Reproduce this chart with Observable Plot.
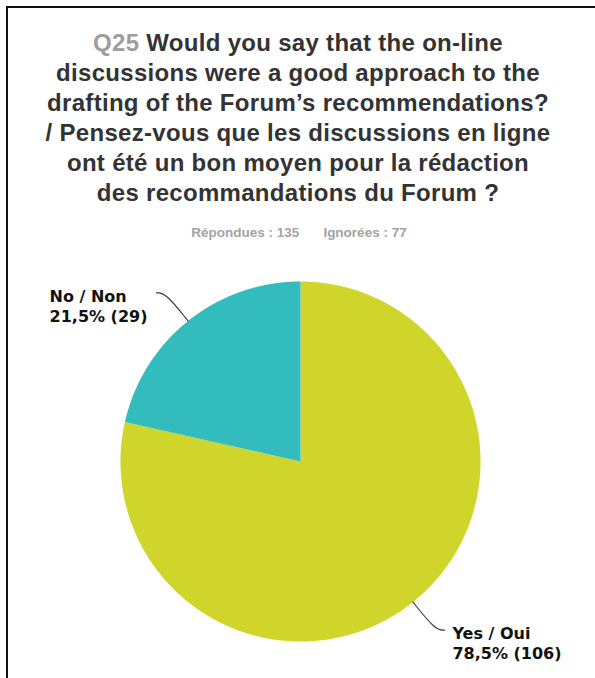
<!DOCTYPE html>
<html>
<head>
<meta charset="utf-8">
<script src="https://cdn.jsdelivr.net/npm/d3@7"></script>
<script src="https://cdn.jsdelivr.net/npm/@observablehq/plot@0.6"></script>
<style>
  html, body { margin: 0; padding: 0; background: #fff; }
  #wrap { position: relative; width: 595px; height: 678px; overflow: hidden; background: #fff; }
  #frame { position: absolute; left: 6px; top: 6px; width: 700px; height: 800px;
           border-left: 2px solid #111; border-top: 2px solid #111; box-sizing: border-box; }
  #title { position: absolute; left: 0; top: 28px; width: 596px; text-align: center;
           font-family: "Liberation Sans", Arial, sans-serif; font-weight: bold; font-size: 24px;
           line-height: 30px; color: #333; letter-spacing: 0.3px; }
  #title .q { color: #9d9d9d; font-weight: bold; }
  #sub { position: absolute; left: 0; top: 225px; width: 598px; text-align: center;
         font-family: "Liberation Sans", Arial, sans-serif; font-weight: bold; font-size: 13.5px;
         color: #a3a3a3; line-height: 16px; }
  #sub span + span { margin-left: 24px; }
  #chart { position: absolute; left: 0; top: 250px; }
</style>
</head>
<body>
<div id="wrap">
  <div id="frame"></div>
  <div id="title"></div>
  <div id="sub"></div>
  <div id="chart"></div>
</div>
<script>
// ---- data ----
const questionId = "Q25";
const titleLines = [
  "Would you say that the on-line",
  "discussions were a good approach to the",
  "drafting of the Forum’s recommendations?",
  "/ Pensez-vous que les discussions en ligne",
  "ont été un bon moyen pour la rédaction",
  "des recommandations du Forum ?"
];
const answered = 135;
const skipped = 77;
const categories = ["Yes / Oui", "No / Non"];
const counts = [106, 29];
const colors = ["#cfd52a", "#33bcbe"];

// ---- title ----
const title = document.getElementById("title");
titleLines.forEach((line, i) => {
  const div = document.createElement("div");
  if (i === 0) {
    const q = document.createElement("span");
    q.className = "q";
    q.textContent = questionId + " ";
    div.appendChild(q);
  }
  div.appendChild(document.createTextNode(line));
  title.appendChild(div);
});
document.getElementById("sub").innerHTML =
  `<span>Répondues : ${answered}</span><span>Ignorées : ${skipped}</span>`;

// ---- pie geometry from data ----
const total = d3.sum(counts);
const slices = d3.pie().sort(null).value(d => d.count)(
  categories.map((c, i) => ({label: c, count: counts[i]}))
);
const fmtPct = v => (v * 100).toFixed(1).replace(".", ",") + "%";

// polar (clockwise from 12 o'clock) -> unit-circle coordinates
const px = (a, r) => r * Math.sin(a);
const py = (a, r) => r * Math.cos(a);

const polyPts = [];
slices.forEach(s => {
  const n = Math.max(2, Math.ceil((s.endAngle - s.startAngle) / (Math.PI / 360)));
  polyPts.push({label: s.data.label, x: 0, y: 0});
  for (let k = 0; k <= n; k++) {
    const a = s.startAngle + (s.endAngle - s.startAngle) * k / n;
    polyPts.push({label: s.data.label, x: px(a, 1), y: py(a, 1)});
  }
  polyPts.push({label: s.data.label, x: 0, y: 0});
});

const leaderPts = [];
const labels = [];
slices.forEach(s => {
  const a = (s.startAngle + s.endAngle) / 2;
  const side = Math.sin(a) < 0 ? -1 : 1;
  const bx = px(a, 1.2), by = py(a, 1.2);
  const cx = bx + side * 0.05;
  leaderPts.push({label: s.data.label, x: px(a, 1), y: py(a, 1)});
  leaderPts.push({label: s.data.label, x: bx, y: by});
  leaderPts.push({label: s.data.label, x: cx, y: by});
  labels.push({
    side, x: cx, y: by,
    text: `${s.data.label}\n${fmtPct(s.data.count / total)} (${s.data.count})`
  });
});

const textOpts = {
  x: "x", y: "y", text: "text",
  fontFamily: "DejaVu Sans", fontWeight: "bold", fontSize: 16, lineHeight: 1.25,
  textAnchor: "start", lineAnchor: "top", fill: "#111", dy: -5
};

const chart = Plot.plot({
  width: 595,
  height: 428,
  marginLeft: 120,
  marginRight: 115,
  marginTop: 31,
  marginBottom: 37,
  x: {domain: [-1, 1], axis: null},
  y: {domain: [-1, 1], axis: null},
  color: {domain: categories, range: colors},
  style: {background: "transparent", overflow: "visible"},
  marks: [
    Plot.line(polyPts, {x: "x", y: "y", z: "label", fill: "label", stroke: "none"}),
    Plot.line(leaderPts, {x: "x", y: "y", z: "label", stroke: "#333", strokeWidth: 1.1, curve: "basis"}),
    Plot.text(labels.filter(d => d.side < 0), {...textOpts, dx: -107}),
    Plot.text(labels.filter(d => d.side > 0), {...textOpts, dx: 8})
  ]
});
document.getElementById("chart").appendChild(chart);
</script>
</body>
</html>
